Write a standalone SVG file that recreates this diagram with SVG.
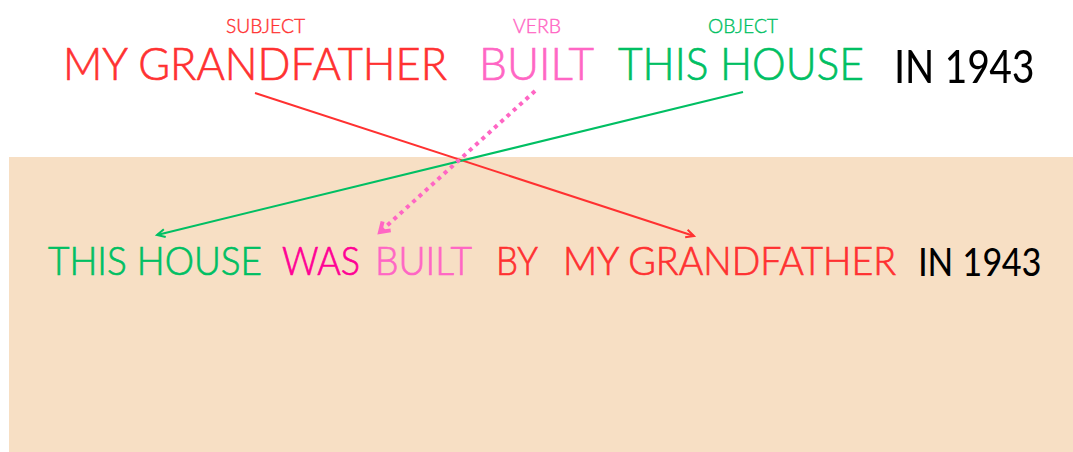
<svg xmlns="http://www.w3.org/2000/svg" width="1073" height="452" viewBox="0 0 1073 452">
<style>
.t{font-family:"Lato","Open Sans",sans-serif;font-weight:300;stroke-width:0.7px;}
.big{font-size:45px;}
.mid{font-size:38.5px;}
.lab{font-size:20px;font-weight:300;stroke-width:0.4px;}
.red{fill:#ff3131;stroke:#ff3131;}
.pink{fill:#ff66c4;stroke:#ff66c4;}
.green{fill:#00bf63;stroke:#00bf63;}
.mag{fill:#ff0095;stroke:#ff0095;}
.blk{fill:#000000;stroke:none;}
.num{font-family:"Carlito","Liberation Sans",sans-serif;font-weight:400;}
</style>
<defs>
<marker id="arR" markerUnits="userSpaceOnUse" markerWidth="14" markerHeight="14" refX="10" refY="5" orient="auto"><path d="M2,1 L10,5 L2,9" fill="none" stroke="#ff3131" stroke-width="2"/></marker>
<marker id="arG" markerUnits="userSpaceOnUse" markerWidth="14" markerHeight="14" refX="10" refY="5" orient="auto"><path d="M2,1 L10,5 L2,9" fill="none" stroke="#00bf63" stroke-width="2"/></marker>
<marker id="arP" markerUnits="userSpaceOnUse" markerWidth="20" markerHeight="20" refX="13" refY="9" orient="auto"><path d="M4,3 L13,9 L4,15" fill="none" stroke="#ff66c4" stroke-width="4"/></marker>
</defs>
<rect x="9" y="157" width="1064" height="295" fill="#f7dfc4"/>
<g id="top-sentence">
<text class="t lab red" x="226" y="33" textLength="79" lengthAdjust="spacingAndGlyphs">SUBJECT</text>
<text class="t lab pink" x="513" y="33" textLength="48" lengthAdjust="spacingAndGlyphs">VERB</text>
<text class="t lab green" x="708" y="33" textLength="70" lengthAdjust="spacingAndGlyphs">OBJECT</text>
<text class="t big red" x="63" y="80" textLength="384" lengthAdjust="spacingAndGlyphs">MY GRANDFATHER</text>
<text class="t big pink" x="479" y="80" textLength="115" lengthAdjust="spacingAndGlyphs">BUILT</text>
<text class="t big green" x="618" y="80" textLength="246" lengthAdjust="spacingAndGlyphs">THIS HOUSE</text>
<text class="t blk num" x="894" y="83" font-size="52" textLength="140" lengthAdjust="spacingAndGlyphs">IN 1943</text>
</g>
<g id="bottom-sentence">
<text class="t mid green" x="48" y="275" textLength="214" lengthAdjust="spacingAndGlyphs">THIS HOUSE</text>
<text class="t mid mag" x="282" y="275" textLength="78" lengthAdjust="spacingAndGlyphs">WAS</text>
<text class="t mid pink" x="375" y="275" textLength="97" lengthAdjust="spacingAndGlyphs">BUILT</text>
<text class="t mid red" x="496" y="275" textLength="42" lengthAdjust="spacingAndGlyphs">BY</text>
<text class="t mid red" x="563" y="275" textLength="333" lengthAdjust="spacingAndGlyphs">MY GRANDFATHER</text>
<text class="t blk num" x="918" y="276" font-size="44" textLength="123" lengthAdjust="spacingAndGlyphs">IN 1943</text>
</g>
<g id="connectors">
<line x1="255" y1="93" x2="694" y2="236" stroke="#ff3131" stroke-width="2" marker-end="url(#arR)"/>
<line x1="743" y1="92" x2="157" y2="235" stroke="#00bf63" stroke-width="2" marker-end="url(#arG)"/>
<line x1="535" y1="91" x2="380" y2="232" stroke="#ff66c4" stroke-width="4" stroke-dasharray="4 4.5" marker-end="url(#arP)"/>
</g>
</svg>
